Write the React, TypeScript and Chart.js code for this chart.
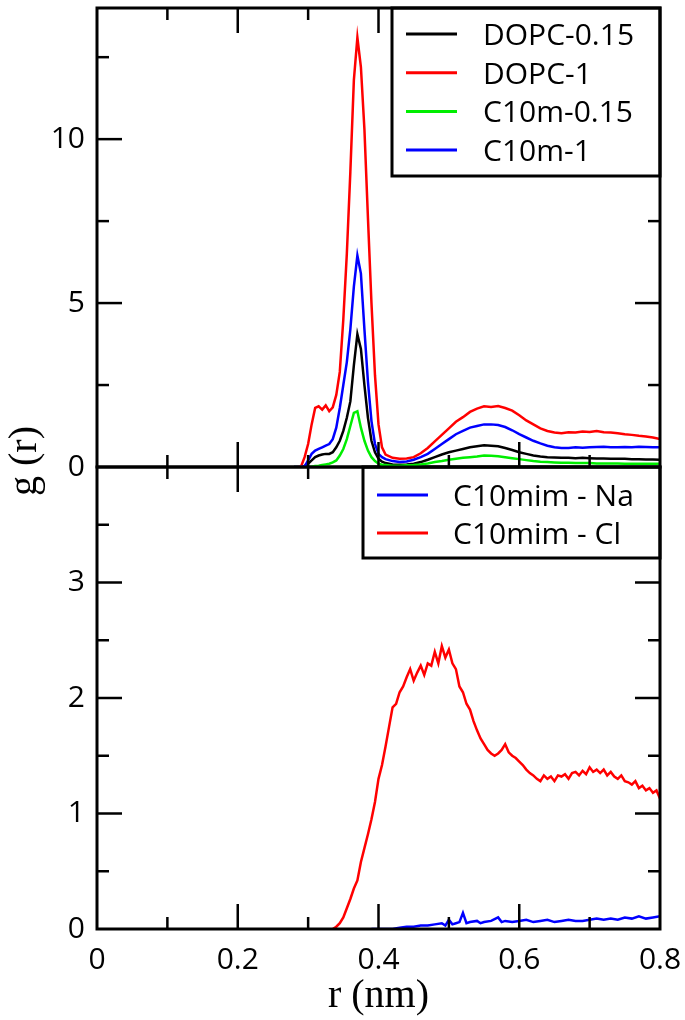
import React, { useEffect, useRef } from 'react';
import { Chart, registerables } from 'chart.js';

Chart.register(...registerables);

// ---------- data ----------
const rTop = [
  0.28, 0.285, 0.29, 0.295, 0.3, 0.305, 0.31, 0.315, 0.32, 0.325, 0.33, 0.335, 0.34, 0.345,
  0.35, 0.355, 0.36, 0.365, 0.37, 0.375, 0.38, 0.385, 0.39, 0.395, 0.4, 0.405, 0.41,
  0.42, 0.43, 0.44, 0.45, 0.46, 0.47, 0.48, 0.49, 0.5, 0.51, 0.52, 0.53, 0.54, 0.55, 0.56,
  0.57, 0.58, 0.59, 0.6, 0.61, 0.62, 0.63, 0.64, 0.65, 0.66, 0.67, 0.68, 0.69, 0.7, 0.71,
  0.72, 0.73, 0.74, 0.75, 0.76, 0.77, 0.78, 0.79, 0.8,
];
const dopc015 = [
  0, 0, 0, 0.03, 0.1, 0.2, 0.3, 0.35, 0.38, 0.4, 0.4, 0.45, 0.6, 0.8,
  1.1, 1.5, 2.0, 3.1, 4.05, 3.6, 2.5, 1.5, 0.8, 0.45, 0.25, 0.16, 0.12,
  0.08, 0.07, 0.08, 0.1, 0.15, 0.22, 0.3, 0.38, 0.45, 0.5, 0.55, 0.6, 0.63, 0.66, 0.65,
  0.63, 0.58, 0.52, 0.45, 0.4, 0.35, 0.32, 0.3, 0.29, 0.28, 0.28, 0.27, 0.28, 0.27, 0.26,
  0.26, 0.25, 0.25, 0.25, 0.24, 0.24, 0.23, 0.23, 0.22,
];
const dopc1 = [
  0, 0, 0.02, 0.3, 0.7, 1.3, 1.8, 1.85, 1.75, 1.88, 1.7, 1.82, 2.2, 2.9,
  4.5, 6.5, 9.0, 11.8, 13.1, 12.2, 10.3, 7.6, 5.0, 2.8, 1.3, 0.6, 0.38,
  0.28, 0.25, 0.26, 0.3, 0.42, 0.58, 0.78, 0.98, 1.18, 1.38, 1.52, 1.68, 1.78, 1.85, 1.83,
  1.86, 1.8, 1.72, 1.58, 1.42, 1.3, 1.18, 1.1, 1.05, 1.03, 1.06, 1.05, 1.08, 1.07, 1.1,
  1.06, 1.05, 1.03, 1.0, 0.98, 0.95, 0.93, 0.9, 0.85,
];
const c10m015 = [
  0, 0, 0, 0, 0, 0.01, 0.03, 0.04, 0.06, 0.08, 0.1, 0.14, 0.2, 0.35,
  0.55, 0.85, 1.25, 1.65, 1.7, 1.2, 0.8, 0.5, 0.3, 0.18, 0.1, 0.07, 0.06,
  0.04, 0.04, 0.05, 0.06, 0.08, 0.11, 0.15, 0.18, 0.22, 0.25, 0.28, 0.3, 0.32, 0.35, 0.34,
  0.33, 0.3, 0.27, 0.24, 0.21, 0.18, 0.16, 0.15, 0.14, 0.13, 0.13, 0.12, 0.12, 0.12, 0.11,
  0.11, 0.11, 0.11, 0.1, 0.1, 0.1, 0.1, 0.1, 0.1,
];
const c10m1 = [
  0, 0, 0, 0.02, 0.2, 0.4, 0.5, 0.55, 0.6, 0.65, 0.7, 0.85, 1.2, 1.8,
  2.5, 3.2, 4.2, 5.5, 6.45, 5.9, 4.2, 2.6, 1.4, 0.7, 0.4, 0.3, 0.24,
  0.18, 0.15, 0.17, 0.22, 0.3, 0.4, 0.55, 0.7, 0.85, 1.0, 1.1, 1.2, 1.25, 1.3, 1.3,
  1.28, 1.22, 1.12, 1.0, 0.9, 0.8, 0.72, 0.65, 0.6, 0.58, 0.58, 0.6, 0.59, 0.6, 0.61,
  0.62, 0.6, 0.6, 0.61, 0.6, 0.62, 0.61, 0.6, 0.6,
];

const rCl = [
  0.335, 0.34, 0.345, 0.35, 0.355, 0.36, 0.365, 0.37, 0.375, 0.38, 0.385, 0.39, 0.395, 0.4,
  0.405, 0.41, 0.415, 0.42, 0.425, 0.43, 0.435, 0.44, 0.445, 0.45, 0.455, 0.46, 0.465, 0.47,
  0.475, 0.48, 0.485, 0.49, 0.495, 0.5, 0.505, 0.51, 0.515, 0.52, 0.525, 0.53, 0.535, 0.54,
  0.545, 0.55, 0.555, 0.56, 0.565, 0.57, 0.575, 0.58, 0.585, 0.59, 0.595, 0.6, 0.605, 0.61,
  0.615, 0.62, 0.625, 0.63, 0.635, 0.64, 0.645, 0.65, 0.655, 0.66, 0.665, 0.67, 0.675, 0.68,
  0.685, 0.69, 0.695, 0.7, 0.705, 0.71, 0.715, 0.72, 0.725, 0.73, 0.735, 0.74, 0.745, 0.75,
  0.755, 0.76, 0.765, 0.77, 0.775, 0.78, 0.785, 0.79, 0.795, 0.8,
];
const clValues = [
  0.0, 0.02, 0.05, 0.1, 0.18, 0.26, 0.35, 0.42, 0.58, 0.7, 0.82, 0.95, 1.1, 1.3,
  1.42, 1.58, 1.75, 1.92, 1.95, 2.05, 2.1, 2.18, 2.25, 2.15, 2.22, 2.28, 2.2, 2.3,
  2.28, 2.4, 2.3, 2.45, 2.35, 2.42, 2.3, 2.25, 2.1, 2.05, 1.95, 1.9, 1.8, 1.72,
  1.65, 1.6, 1.55, 1.52, 1.5, 1.52, 1.55, 1.6, 1.53, 1.5, 1.48, 1.45, 1.42, 1.38,
  1.35, 1.33, 1.3, 1.28, 1.33, 1.3, 1.32, 1.28, 1.33, 1.32, 1.34, 1.3, 1.35, 1.36,
  1.33, 1.37, 1.34, 1.4, 1.36, 1.38, 1.35, 1.38, 1.33, 1.36, 1.32, 1.3, 1.33, 1.28,
  1.27, 1.25, 1.28, 1.22, 1.24, 1.2, 1.22, 1.18, 1.2, 1.13,
];
const rNa = [
  0.39, 0.4, 0.42, 0.43, 0.44, 0.45, 0.46, 0.47, 0.48, 0.49, 0.495, 0.5, 0.505, 0.51,
  0.515, 0.52, 0.525, 0.53, 0.54, 0.545, 0.55, 0.56, 0.57, 0.575, 0.58, 0.59, 0.6, 0.61,
  0.62, 0.63, 0.64, 0.65, 0.66, 0.67, 0.68, 0.69, 0.7, 0.71, 0.72, 0.73, 0.74, 0.75,
  0.76, 0.77, 0.78, 0.79, 0.8,
];
const naValues = [
  0, 0, 0, 0.01, 0.02, 0.02, 0.03, 0.03, 0.04, 0.05, 0.03, 0.08, 0.04, 0.05,
  0.06, 0.14, 0.05, 0.06, 0.07, 0.05, 0.06, 0.07, 0.1, 0.06, 0.07, 0.06, 0.07, 0.08,
  0.06, 0.07, 0.08, 0.06, 0.07, 0.08, 0.07, 0.07, 0.08, 0.09, 0.08, 0.09, 0.08, 0.1,
  0.09, 0.11, 0.09, 0.1, 0.11,
];

const topLabels = ['DOPC-0.15', 'DOPC-1', 'C10m-0.15', 'C10m-1'];
const topColors = ['#000000', '#ff0000', '#00ee00', '#0000ff'];
const topSeries = [dopc015, dopc1, c10m015, c10m1];
const bottomLabels = ['C10mim - Na', 'C10mim - Cl'];
const bottomColors = ['#0000ff', '#ff0000'];
const xTickLabels = ['0', '0.2', '0.4', '0.6', '0.8'];
const topYTickLabels = ['0', '5', '10'];
const bottomYTickLabels = ['0', '1', '2', '3'];

const SANS = "'Open Sans', 'DejaVu Sans', sans-serif";
const SERIF = "'Liberation Serif', 'DejaVu Serif', serif";

const zip = (xs: number[], ys: number[]) => xs.map((x, i) => ({ x, y: ys[i] }));

// frame, inward ticks and in-plot legend
const framePlugin = {
  id: 'frameTicks',
  afterDatasetsDraw(chart: any, _args: any, opts: any) {
    const { ctx, chartArea: a, scales } = chart;
    const xs = scales.x;
    const ys = scales.y;
    ctx.save();
    ctx.strokeStyle = '#000';
    ctx.lineWidth = 2.5;
    const seg = (x1: number, y1: number, x2: number, y2: number) => {
      ctx.beginPath();
      ctx.moveTo(x1, y1);
      ctx.lineTo(x2, y2);
      ctx.stroke();
    };
    for (let i = 1; i < 8; i++) {
      const px = xs.getPixelForValue(i / 10);
      const len = i % 2 === 0 ? 25 : 12;
      seg(px, a.bottom, px, a.bottom - len);
      seg(px, a.top, px, a.top + len);
    }
    const step = opts.yStep;
    for (let i = 1; i * step < ys.max - 1e-9; i++) {
      const py = ys.getPixelForValue(i * step);
      const len = i % 2 === 0 ? 25 : 12;
      seg(a.left, py, a.left + len, py);
      seg(a.right, py, a.right - len, py);
    }
    const lg = opts.legend;
    const bx = a.right - lg.width;
    const by = a.top;
    ctx.fillStyle = '#fff';
    ctx.fillRect(bx, by, lg.width, lg.height);
    ctx.strokeStyle = '#000';
    ctx.lineWidth = 3;
    ctx.strokeRect(bx, by, lg.width, lg.height);
    ctx.font = `30px ${SANS}`;
    ctx.textAlign = 'left';
    ctx.textBaseline = 'alphabetic';
    chart.data.datasets.forEach((ds: any, i: number) => {
      const cy = by + lg.firstRow + i * lg.rowGap;
      ctx.strokeStyle = ds.borderColor;
      ctx.lineWidth = 3;
      seg(bx + 14, cy, bx + 65, cy);
      ctx.fillStyle = '#000';
      ctx.fillText(ds.label, bx + lg.textOffset, cy + 11);
    });
    ctx.strokeStyle = '#000';
    ctx.lineWidth = 3;
    ctx.strokeRect(a.left, a.top, a.right - a.left, a.bottom - a.top);
    ctx.restore();
  },
};

const tickFont = { family: SANS, size: 30 };
const fixY = (s: any) => {
  s.width = 97;
  s.paddingTop = 0;
  s.paddingBottom = 0;
};
const fixX = (s: any) => {
  s.height = 91;
  s.paddingLeft = 0;
  s.paddingRight = 0;
};

function makeTopChart(canvas: HTMLCanvasElement) {
  return new Chart(canvas, {
    type: 'line',
    data: {
      datasets: topSeries.map((s, i) => ({
        label: topLabels[i],
        data: zip(rTop, s),
        borderColor: topColors[i],
        backgroundColor: topColors[i],
        borderWidth: 2.5,
        pointRadius: 0,
        tension: 0,
        order: 3 - i,
      })),
    },
    options: {
      responsive: false,
      animation: false,
      events: [],
      layout: { padding: { top: 8, left: 0, right: 25, bottom: 553 } },
      plugins: {
        legend: { display: false },
        tooltip: { enabled: false },
        frameTicks: {
          yStep: 2.5,
          legend: { width: 268, height: 168, firstRow: 26, rowGap: 38.7, textOffset: 91 },
        },
      } as any,
      scales: {
        x: { type: 'linear', min: 0, max: 0.8, display: false },
        y: {
          type: 'linear',
          min: 0,
          max: 14,
          afterFit: fixY,
          grid: { display: false, drawTicks: false },
          border: { display: false },
          ticks: {
            stepSize: 5,
            includeBounds: false,
            padding: 12,
            color: '#000',
            font: tickFont,
            callback: (v: any) => topYTickLabels[Math.round(Number(v) / 5)] ?? null,
          },
        },
      },
    },
    plugins: [framePlugin],
  } as any);
}

function makeBottomChart(canvas: HTMLCanvasElement) {
  return new Chart(canvas, {
    type: 'line',
    data: {
      datasets: [
        {
          label: bottomLabels[0],
          data: zip(rNa, naValues),
          borderColor: bottomColors[0],
          backgroundColor: bottomColors[0],
          borderWidth: 2.5,
          pointRadius: 0,
          tension: 0,
        },
        {
          label: bottomLabels[1],
          data: zip(rCl, clValues),
          borderColor: bottomColors[1],
          backgroundColor: bottomColors[1],
          borderWidth: 2.5,
          pointRadius: 0,
          tension: 0,
        },
      ],
    },
    options: {
      responsive: false,
      animation: false,
      events: [],
      layout: { padding: { top: 467, left: 0, right: 25, bottom: 0 } },
      plugins: {
        legend: { display: false },
        tooltip: { enabled: false },
        frameTicks: {
          yStep: 0.5,
          legend: { width: 297, height: 91, firstRow: 28, rowGap: 38, textOffset: 90 },
        },
      } as any,
      scales: {
        x: {
          type: 'linear',
          min: 0,
          max: 0.8,
          afterFit: fixX,
          grid: { display: false, drawTicks: false },
          border: { display: false },
          ticks: {
            stepSize: 0.2,
            padding: 13,
            maxRotation: 0,
            color: '#000',
            font: tickFont,
            callback: (v: any) => xTickLabels[Math.round(Number(v) / 0.2)] ?? null,
          },
          title: {
            display: true,
            text: 'r (nm)',
            color: '#000',
            font: { family: SERIF, size: 40 },
            padding: { top: 0, bottom: 0 },
          },
        },
        y: {
          type: 'linear',
          min: 0,
          max: 4,
          afterFit: fixY,
          grid: { display: false, drawTicks: false },
          border: { display: false },
          ticks: {
            stepSize: 1,
            padding: 12,
            color: '#000',
            font: tickFont,
            callback: (v: any) => bottomYTickLabels[Math.round(Number(v))] ?? null,
          },
        },
      },
    },
    plugins: [framePlugin],
  } as any);
}

export default function App() {
  const topRef = useRef<HTMLCanvasElement>(null);
  const botRef = useRef<HTMLCanvasElement>(null);
  useEffect(() => {
    const c1 = makeTopChart(topRef.current!);
    const c2 = makeBottomChart(botRef.current!);
    return () => {
      c1.destroy();
      c2.destroy();
    };
  }, []);
  const canvasStyle: React.CSSProperties = { position: 'absolute', left: 0, top: 0 };
  return (
    <div style={{ position: 'fixed', left: 0, top: 0, width: 685, height: 1020, background: '#fff', overflow: 'hidden' }}>
      <canvas ref={botRef} width={685} height={1020} style={canvasStyle} />
      <canvas ref={topRef} width={685} height={1020} style={canvasStyle} />
      <div
        style={{
          position: 'absolute',
          left: 23,
          top: 461,
          transform: 'translate(-50%, -50%) rotate(-90deg)',
          fontFamily: SERIF,
          fontSize: 40,
          lineHeight: 1,
          whiteSpace: 'nowrap',
          color: '#000',
        }}
      >
        g (r)
      </div>
    </div>
  );
}
